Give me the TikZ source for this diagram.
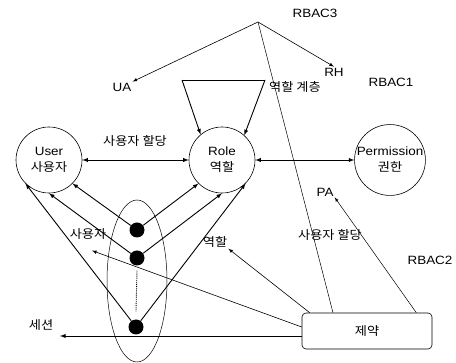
\documentclass[tikz,border=0pt]{standalone}
\usepackage{fontspec}
\setmainfont{Liberation Sans}[FakeStretch=1.12]
\newfontfamily\kr{Noto Sans CJK KR}[FakeStretch=1.1]
\usepackage{tikz}
\usetikzlibrary{arrows,positioning,shapes.geometric}
\tikzset{
    circ/.style={ % entity circles
        circle,
        draw=black,
        line width=0.6pt,
        minimum size=66pt,
        inner sep=0pt,
        align=center
        },
    sdot/.style={ % session dots
        circle,
        fill=black,
        inner sep=0pt,
        minimum size=15pt
        },
    lbl/.style={ % plain text labels
        inner sep=1pt
        },
    boxr/.style={ % rounded constraint box
        rectangle,
        rounded corners=4pt,
        draw=black,
        line width=0.6pt,
        minimum width=130pt,
        minimum height=36pt
        },
    arrout/.style={
           ->,
           -latex,
           line width=0.9pt
           },
    arrb/.style={
           <->,
           >=latex,
           line width=0.9pt
           },
    thinarr/.style={ %thin version
           -latex,
           line width=0.5pt
           }
}
\begin{document}
\begin{tikzpicture}[x=1pt,y=-1pt,font=\fontsize{12}{16}\selectfont]
\useasboundingbox (0,0) rectangle (456,363);

%%%%% entities
\node[circ] (user) at (49,160) {User\\{\kr 사용자}};
\node[circ] (role) at (222,160) {Role\\{\kr 역할}};
\node[circ] (perm) at (390,160) {Permission\\{\kr 권한}};

%%%%% session ellipse and dots
\node[ellipse, draw, line width=0.5pt, minimum width=60pt, minimum height=162pt, inner sep=0pt] (sess) at (137,281) {};
\node[sdot] (s1) at (137,230) {};
\node[sdot] (s2) at (137,258) {};
\node[sdot] (s3) at (136,327) {};
\draw[densely dotted, line width=0.9pt] ([yshift=-5pt]s2.south) -- ([yshift=8pt]s3.north);

%%%%% constraint box
\node[boxr] (cons) at (367,331) {\kr 제약};

%%%%% labels
\node[lbl] (rbac3) at (315,13) {RBAC3};
\coordinate (top) at (258,22);
\node[lbl] (ua) at (122,87) {UA};
\node[lbl] (rh) at (334,72) {RH};
\node[lbl] (rbac1) at (391,82) {RBAC1};
\node[lbl] (rhl) at (295,87) {\kr 역할 계층};
\node[lbl] (ual) at (135,141) {\kr 사용자 할당};
\node[lbl] (pa) at (325,192) {PA};
\node[lbl] (pal) at (330,235) {\kr 사용자 할당};
\node[lbl] (rbac2) at (430,260) {RBAC2};
\node[lbl] (lrole) at (215,242) {\kr 역할};
\node[lbl] (luser) at (88,234) {\kr 사용자};
\node[lbl] (lsess) at (41,325) {\kr 세션};
\coordinate (sessend) at (60,336);

%%%%% assignments
\draw[arrb] (user) -- (role);
\draw[arrb] (role) -- (perm);

%%%%% role hierarchy
\coordinate (h1) at (182,80);
\coordinate (h2) at (265,80);
\draw[line width=0.9pt] (h1) -- (h2);
\draw[arrout] (h1) -- (role.130);
\draw[arrout] (h2) -- (role.48);

%%%%% RBAC3
\draw[thinarr, line width=0.6pt] (top) -- (ua.north east);
\draw[thinarr, line width=0.6pt] (top) -- (rh.north);
\draw[line width=0.5pt] (top) -- ([xshift=-34pt]cons.north);

%%%%% sessions to user and role
\draw[arrout] (s1) -- (user.-45);
\draw[arrout] (s1) -- (role.-135);
\draw[arrout] (s2) -- (user.-90);
\draw[arrout] (s2) -- (role.-90);
\draw[arrout] (s3) -- (user.-135);
\draw[arrout] (s3) -- (role.-45);

%%%%% constraints
\draw[thinarr] ([xshift=-16pt]cons.north east) -- (pa.south east);
\draw[thinarr, line width=0.6pt] ([xshift=8pt]cons.north west) -- (lrole.south east);
\draw[thinarr, line width=0.6pt] ([yshift=4pt]cons.west) -- ([xshift=4pt,yshift=-10pt]luser.south);
\draw[arrout] ([yshift=-5pt]cons.west) -- (sessend);

\end{tikzpicture}
\end{document}
